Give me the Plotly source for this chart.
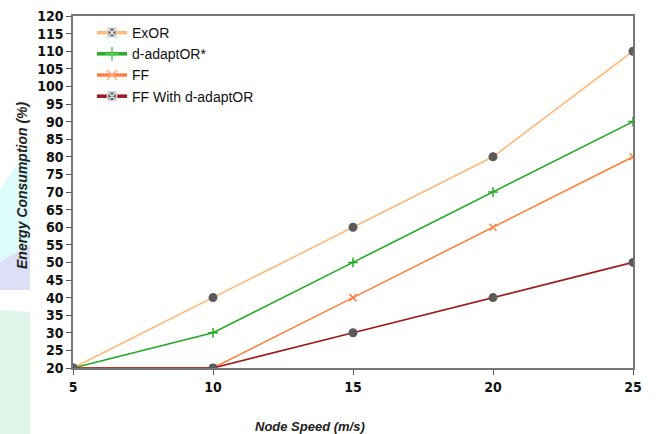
import plotly.graph_objects as go

speeds = [5, 10, 15, 20, 25]
exor = [20, 40, 60, 80, 110]
dadapt = [20, 30, 50, 70, 90]
ff = [20, 20, 40, 60, 80]
ff_with = [20, 20, 30, 40, 50]
series_names = ["ExOR", "d-adaptOR*", "FF", "FF With d-adaptOR"]
y_ticks = list(range(20, 121, 5))

W, H = 656, 434
L, R, T, B = 73, 633, 16, 368

def px(x):
    return (x - L) / (R - L)

def py(y):
    return (B - y) / (B - T)

colors = ["#FFBA78", "#22AA22", "#FF8040", "#A01818"]
fig = go.Figure()

data = [exor, dadapt, ff, ff_with]
markers = [
    dict(symbol="circle", size=9, color="#5A5A5A"),
    dict(symbol="cross-thin", size=7, color="#22AA22", line=dict(width=1.5, color="#22AA22")),
    dict(symbol="x-thin", size=7, color="#FF8040", line=dict(width=1.5, color="#FF8040")),
    dict(symbol="circle", size=9, color="#5A5A5A"),
]
for name, vals, c, m in zip(series_names, data, colors, markers):
    fig.add_trace(go.Scatter(x=speeds, y=vals, mode="lines+markers", name=name,
                             line=dict(color=c, width=1.6), marker=m, showlegend=False))

leg_markers = [
    dict(symbol="square-x", size=9, color="#6A6A6A", line=dict(width=1.5, color="#E0E0E0")),
    dict(symbol="cross-thin", size=10, color="#5CCB5C", line=dict(width=1.5, color="#5CCB5C")),
    dict(symbol="x-thin", size=10, color="#FFB090", line=dict(width=1.5, color="#FFB090")),
    dict(symbol="square-x", size=9, color="#6A6A6A", line=dict(width=1.5, color="#E0E0E0")),
]
for name, c, m in zip(series_names, colors, leg_markers):
    fig.add_trace(go.Scatter(x=[None], y=[None], mode="lines+markers", name=name,
                             line=dict(color=c, width=3.5), marker=m, showlegend=True))

# decorative watermark shapes on left edge
shapes = []
def poly(pts, color):
    d = "M " + " L ".join(f"{px(x):.4f},{py(y):.4f}" for x, y in pts) + " Z"
    return dict(type="path", path=d, xref="paper", yref="paper", fillcolor=color,
                line=dict(width=0), layer="below")
shapes.append(poly([(0, 190), (30, 145), (30, 285), (0, 285)], "#DDFBFB"))
shapes.append(poly([(0, 262), (30, 245), (30, 290), (0, 290)], "#DCDFF5"))
shapes.append(poly([(0, 310), (30, 312), (30, 434), (0, 434)], "#E0F6EA"))

title_font = dict(family="Liberation Sans", size=13, color="#222222",
                  weight="bold", style="italic")
annotations = [
    dict(text="Node Speed (m/s)", x=px(310), y=py(426), xref="paper", yref="paper",
         showarrow=False, xanchor="center", yanchor="middle", font=title_font),
    dict(text="Energy Consumption (%)", x=px(22), y=py(185), xref="paper", yref="paper",
         showarrow=False, xanchor="center", yanchor="middle", textangle=-90,
         font=dict(title_font, size=14)),
]

tickfont = dict(family="Liberation Sans Narrow, DejaVu Sans Condensed, Arial Narrow, Liberation Sans",
                size=14, color="#111111", weight="bold")
fig.update_layout(
    width=W, height=H,
    margin=dict(l=L, r=W - R, t=T, b=H - B),
    paper_bgcolor="white", plot_bgcolor="rgba(0,0,0,0)",
    shapes=shapes,
    annotations=annotations,
    showlegend=True,
    legend=dict(x=px(92), y=py(17), xanchor="left", yanchor="top",
                font=dict(family="Liberation Sans", size=14, color="#111111"),
                bgcolor="rgba(0,0,0,0)", tracegroupgap=0, itemwidth=30),
    xaxis=dict(range=[5, 25], tickvals=speeds, ticks="outside", ticklen=5,
               tickcolor="#555555", showline=True, linecolor="#777777", linewidth=1.5,
               mirror=True, showgrid=False, zeroline=False, tickfont=tickfont,
               automargin=False),
    yaxis=dict(range=[20, 120], tickvals=y_ticks, ticks="outside", ticklen=5,
               tickcolor="#555555", showline=True, linecolor="#777777", linewidth=1.5,
               mirror=True, showgrid=False, zeroline=False, tickfont=tickfont,
               automargin=False),
)

fig.write_html("out.html")
